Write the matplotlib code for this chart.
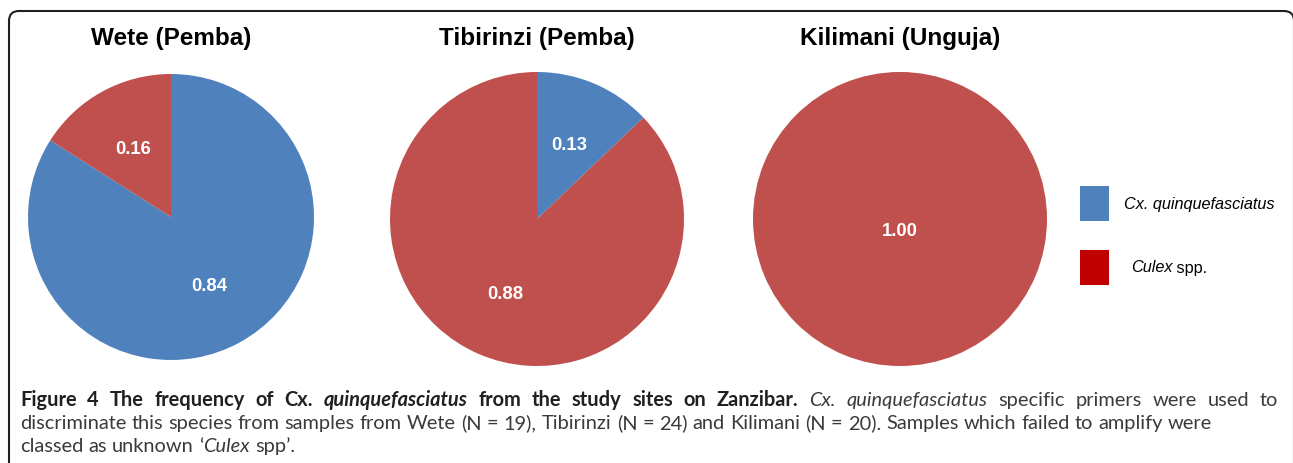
import numpy as np
import matplotlib.pyplot as plt
from matplotlib.patches import FancyBboxPatch, Rectangle
from matplotlib.transforms import IdentityTransform

# data
sites = ['Wete (Pemba)', 'Tibirinzi (Pemba)', 'Kilimani (Unguja)']
cx_quinq = [0.84, 0.13, 0.00]
culex_spp = [0.16, 0.88, 1.00]
legend_labels = ['Cx. quinquefasciatus', 'Culex spp.']

caption = [
    [('Figure 4 The frequency of Cx. ', 'b'), ('quinquefasciatus', 'bi'),
     (' from the study sites on Zanzibar. ', 'b'), ('Cx. quinquefasciatus', 'i'),
     (' specific primers were used to', 'r')],
    [('discriminate this species from samples from Wete (N = 19), Tibirinzi (N = 24) '
      'and Kilimani (N = 20). Samples which failed to amplify were', 'r')],
    [('classed as unknown \u2018', 'r'), ('Culex', 'i'), (' spp\u2019.', 'r')],
]

BLUE = '#4F81BD'
RED = '#C0504D'
LEG_RED = '#C00000'

W, H = 1293, 464
fig = plt.figure(figsize=(W / 100, H / 100), dpi=100)
renderer = fig.canvas.get_renderer()

# pies: centre x, centre y (px from top), radius
layout = [(171, 218, 143), (537, 220, 147), (900, 220, 147)]
title_y = 39

for site, q, c, (cx, cy, r) in zip(sites, cx_quinq, culex_spp, layout):
    ax = fig.add_axes([(cx - r) / W, (H - cy - r) / H, 2 * r / W, 2 * r / H])
    wedges, _ = ax.pie([q, c], colors=[BLUE, RED], startangle=90, counterclock=False,
                       radius=1, wedgeprops=dict(linewidth=0))
    ax.set_xlim(-1, 1)
    ax.set_ylim(-1, 1)
    for w, v in zip(wedges, [q, c]):
        if v == 0:
            continue
        if v >= 0.999:
            x, y = 0, -0.08
        else:
            ang = np.deg2rad((w.theta1 + w.theta2) / 2)
            x, y = 0.55 * np.cos(ang), 0.55 * np.sin(ang)
        ax.text(x, y, f'{v:.2f}', ha='center', va='center', color='white',
                fontsize=13.3, fontweight='bold', family='Liberation Sans')
    fig.text(cx / W, 1 - title_y / H, site, ha='center', va='center',
             fontsize=17.5, fontweight='bold', family='Liberation Sans')

# legend
for i, col in enumerate([BLUE, LEG_RED]):
    y0 = 187 + i * 64
    fig.add_artist(Rectangle((1080, H - y0 - 35), 29, 35, transform=IdentityTransform(),
                             facecolor=col, edgecolor='none'))
fig.text(1124 / W, 1 - 204 / H, legend_labels[0], fontsize=11.7, style='italic',
         va='center', family='Liberation Sans')
t = fig.text(1131 / W, 1 - 268 / H, 'Culex', fontsize=11.7, style='italic',
             va='center', family='Liberation Sans')
wx = t.get_window_extent(renderer).width
fig.text((1131 + wx) / W, 1 - 268 / H, ' spp.', fontsize=11.7, va='center',
         family='Liberation Sans')

# caption
FONT = 'Lato'
STYLES = {'b': dict(fontweight='bold', color='#231f20'),
          'bi': dict(fontweight='bold', style='italic', color='#231f20'),
          'i': dict(style='italic', color='#3a3a3a'),
          'r': dict(color='#3a3a3a')}


def text_width(s, size, style):
    tt = fig.text(0, 0, s, fontsize=size, family=FONT, **STYLES[style])
    w = tt.get_window_extent(renderer).width
    tt.remove()
    return w


def words_of(segments):
    words = []
    glue = False
    for text, style in segments:
        parts = text.split(' ')
        for i, p in enumerate(parts):
            if p == '':
                glue = False
                continue
            if i == 0 and glue and words:
                words[-1].append((p, style))
            else:
                words.append([(p, style)])
            glue = True
        if text.endswith(' '):
            glue = False
    return words


def line_width(words, size):
    ww = [sum(text_width(p, size, s) for p, s in word) for word in words]
    space = text_width('a a', size, 'r') - text_width('aa', size, 'r')
    return ww, space


lines = [words_of(seg) for seg in caption]
ww2, sp2 = line_width(lines[1], 10)
nat = sum(ww2) + sp2 * (len(ww2) - 1)
size = 10 * (1212 - 20) / nat

x_left, x_right = 20, 1278
baselines = [406, 429, 452]
for li, (words, yb) in enumerate(zip(lines, baselines)):
    ww, space = line_width(words, size)
    if li == 0:
        gap = (x_right - x_left - sum(ww)) / (len(ww) - 1)
    else:
        gap = space
    x = x_left
    for word, w in zip(words, ww):
        xx = x
        for p, s in word:
            fig.text(xx / W, 1 - yb / H, p, fontsize=size, family=FONT,
                     va='baseline', **STYLES[s])
            xx += text_width(p, size, s)
        x += w + gap

# frame
fig.add_artist(FancyBboxPatch((9, -20), 1285, H - 12 + 20,
                              boxstyle='round,pad=0,rounding_size=10',
                              transform=IdentityTransform(), facecolor='none',
                              edgecolor='#231f20', linewidth=1.5, clip_on=False))

fig.savefig('out.png', dpi=100)
